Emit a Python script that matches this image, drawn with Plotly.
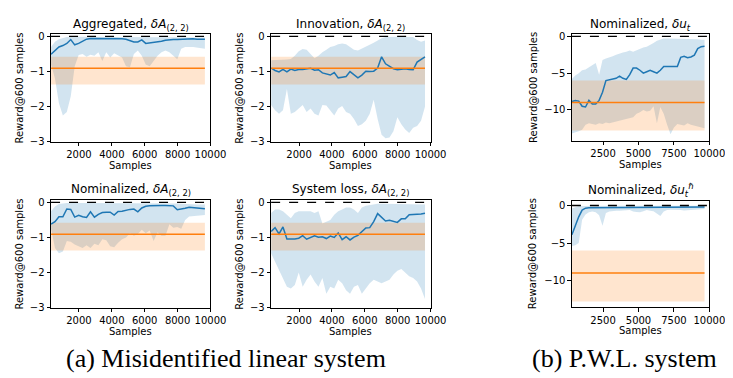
import plotly.graph_objects as go

# ---------------- data ----------------
SAMPLES = [300, 540, 780, 1020, 1260, 1500, 1740, 1980, 2220, 2460,
           2700, 2940, 3180, 3420, 3660, 3900, 4140, 4380, 4620, 4860,
           5100, 5340, 5580, 5820, 6060, 6300, 6540, 6780, 7020, 7260,
           7500, 7740, 7980, 8220, 8460, 8700, 8940, 9180, 9420, 9660]

# (a) Aggregated
agg_mean = [-0.51, -0.40, -0.30, -0.26, -0.20, -0.09, -0.24, -0.20, -0.13, -0.08,
            -0.06, -0.06, -0.05, -0.06, -0.06, -0.07, -0.06, -0.07, -0.07, -0.08,
            -0.12, -0.16, -0.16, -0.10, -0.20, -0.19, -0.17, -0.16, -0.14, -0.11,
            -0.09, -0.09, -0.09, -0.08, -0.08, -0.08, -0.07, -0.08, -0.08, -0.08]
agg_upper = [-0.30, -0.15, -0.08, -0.04, -0.02, -0.01, -0.02, -0.01, -0.01, -0.01,
             -0.01, -0.01, -0.01, -0.01, -0.01, -0.01, -0.01, -0.01, -0.01, -0.01,
             -0.02, -0.02, -0.02, -0.01, -0.02, -0.02, -0.01, -0.01, -0.01, -0.01,
             -0.01, -0.01, -0.02, -0.02, -0.02, -0.03, -0.03, -0.03, -0.03, -0.03]
agg_lower = [-0.80, -1.20, -1.90, -2.25, -2.15, -1.70, -0.85, -0.53, -0.50, -0.58,
             -0.52, -0.55, -0.45, -0.70, -0.45, -0.60, -0.48, -0.55, -0.60, -0.85,
             -0.88, -0.50, -0.40, -0.55, -0.80, -0.85, -0.70, -0.55, -0.45, -0.40,
             -0.45, -0.55, -0.65, -0.35, -0.30, -0.30, -0.30, -0.32, -0.33, -0.35]

# (a) Innovation
inn_mean = [-0.90, -0.97, -1.01, -0.94, -1.01, -0.93, -0.97, -0.94, -0.94, -0.92,
            -0.91, -0.96, -0.95, -1.04, -1.06, -1.10, -1.03, -1.18, -1.16, -1.14,
            -1.00, -1.08, -1.18, -1.10, -0.99, -1.00, -0.99, -0.90, -0.58, -0.78,
            -0.86, -0.92, -0.95, -0.93, -0.92, -0.94, -0.95, -0.73, -0.66, -0.58]
inn_upper = [-0.68, -0.68, -0.67, -0.66, -0.66, -0.64, -0.55, -0.42, -0.36, -0.38,
             -0.50, -0.62, -0.55, -0.45, -0.38, -0.30, -0.27, -0.22, -0.20, -0.22,
             -0.30, -0.38, -0.40, -0.35, -0.28, -0.25, -0.18, -0.12, -0.05, -0.02,
             -0.01, -0.01, -0.01, -0.01, -0.01, -0.01, -0.02, -0.10, -0.15, -0.12]
inn_lower = [-1.95, -2.10, -2.20, -2.10, -1.50, -2.20, -2.15, -2.05, -1.95, -2.15,
             -2.05, -2.20, -2.25, -1.95, -1.97, -2.10, -2.25, -2.05, -1.98, -2.15,
             -2.20, -2.35, -2.55, -2.50, -2.40, -2.20, -1.80, -2.35, -2.80, -2.90,
             -2.88, -2.70, -2.30, -2.50, -2.65, -2.75, -2.60, -2.55, -2.40, -2.00]

# (a) Nominalized
nom_mean = [-0.62, -0.55, -0.41, -0.41, -0.19, -0.20, -0.42, -0.37, -0.41, -0.43,
            -0.27, -0.42, -0.34, -0.29, -0.28, -0.28, -0.36, -0.26, -0.25, -0.22,
            -0.20, -0.19, -0.27, -0.16, -0.11, -0.10, -0.09, -0.09, -0.09, -0.09,
            -0.09, -0.10, -0.21, -0.20, -0.17, -0.14, -0.15, -0.15, -0.16, -0.18]
nom_upper = [-0.25, -0.12, -0.05, -0.03, -0.02, -0.02, -0.03, -0.02, -0.02, -0.02,
             -0.01, -0.02, -0.02, -0.01, -0.01, -0.01, -0.02, -0.01, -0.01, -0.01,
             -0.01, -0.01, -0.01, -0.01, -0.01, -0.01, -0.01, -0.01, -0.01, -0.01,
             -0.01, -0.02, -0.03, -0.04, -0.05, -0.06, -0.06, -0.06, -0.06, -0.06]
nom_lower = [-0.75, -1.30, -1.45, -1.40, -1.10, -1.12, -1.20, -1.25, -1.30, -1.22,
             -1.30, -1.18, -1.22, -1.05, -1.08, -1.25, -1.28, -1.15, -1.05, -1.00,
             -0.88, -0.95, -0.90, -0.78, -0.88, -0.80, -1.10, -0.85, -0.95, -0.95,
             -0.62, -0.72, -0.70, -0.75, -0.50, -0.40, -0.38, -0.38, -0.37, -0.36]

# (a) System loss
sys_mean = [-0.83, -0.72, -0.90, -0.70, -1.04, -1.05, -1.04, -1.02, -0.95, -1.05,
            -1.00, -0.95, -0.99, -0.98, -1.03, -0.96, -1.00, -0.87, -1.06, -0.98,
            -1.07, -0.99, -0.94, -0.82, -0.73, -0.72, -0.55, -0.32, -0.44, -0.53,
            -0.51, -0.53, -0.57, -0.47, -0.47, -0.35, -0.35, -0.35, -0.33, -0.31]
sys_upper = [-0.30, -0.20, -0.20, -0.25, -0.35, -0.45, -0.30, -0.25, -0.25, -0.25,
             -0.25, -0.30, -0.25, -0.60, -0.55, -0.50, -0.35, -0.25, -0.20, -0.15,
             -0.15, -0.20, -0.30, -0.15, -0.10, -0.08, -0.05, -0.04, -0.04, -0.04,
             -0.04, -0.04, -0.04, -0.05, -0.06, -0.06, -0.06, -0.06, -0.06, -0.06]
sys_lower = [-1.45, -1.70, -1.95, -2.15, -2.40, -2.45, -2.35, -2.00, -2.40, -2.20,
             -2.05, -2.25, -2.40, -2.15, -2.60, -2.40, -2.45, -2.20, -2.30, -2.50,
             -2.60, -2.40, -2.35, -2.60, -2.45, -2.30, -2.20, -2.25, -2.30, -2.25,
             -2.20, -2.05, -1.95, -1.90, -2.00, -2.10, -2.15, -2.25, -2.45, -2.75]

# (b) Nominalized, delta u_t
u_mean = [-8.86, -8.72, -8.80, -9.50, -9.60, -8.70, -9.20, -9.20, -8.70, -7.60,
          -6.00, -5.90, -5.75, -5.70, -5.40, -5.70, -5.85, -5.20, -4.30, -4.30,
          -4.60, -5.00, -4.80, -4.60, -4.80, -5.00, -4.60, -4.10, -4.10, -4.10,
          -4.15, -4.10, -2.85, -2.70, -2.90, -2.80, -2.55, -1.65, -1.40, -1.35]
u_upper = [-5.80, -5.30, -5.00, -4.60, -4.50, -4.20, -4.00, -3.60, -5.20, -3.20,
           -3.00, -2.90, -2.70, -2.50, -2.30, -2.20, -2.10, -1.90, -2.10, -1.90,
           -1.60, -1.50, -1.40, -1.20, -0.90, -0.60, -0.45, -0.30, -0.30, -0.30,
           -0.35, -0.35, -0.30, -0.35, -0.40, -0.40, -0.40, -0.40, -0.45, -0.45]
u_lower = [-13.2, -13.0, -12.9, -12.7, -12.0, -11.8, -11.9, -12.0, -11.8, -11.9,
           -11.7, -11.8, -11.7, -11.6, -11.5, -11.4, -11.3, -11.1, -11.0, -10.5,
           -10.3, -10.0, -10.2, -10.1, -9.5, -11.8, -9.6, -10.5, -12.0, -13.3,
           -12.4, -11.9, -12.0, -12.1, -11.8, -12.0, -12.1, -12.2, -12.4, -12.5]

# (b) Nominalized, delta u_t^hbar
uh_mean = [-3.90, -2.70, -1.50, -0.60, -0.35, -0.30, -0.30, -0.28, -0.27, -0.27,
           -0.26, -0.26, -0.25, -0.25, -0.25, -0.25, -0.24, -0.24, -0.24, -0.24,
           -0.24, -0.24, -0.23, -0.23, -0.23, -0.23, -0.22, -0.22, -0.22, -0.22,
           -0.22, -0.21, -0.21, -0.21, -0.20, -0.20, -0.20, -0.20, -0.20, -0.20]
uh_upper = [-0.40, -0.20, -0.06, -0.05, -0.04, -0.04, -0.04, -0.04, -0.04, -0.04,
            -0.04, -0.04, -0.04, -0.04, -0.04, -0.04, -0.04, -0.04, -0.04, -0.04,
            -0.04, -0.04, -0.04, -0.04, -0.04, -0.04, -0.04, -0.04, -0.04, -0.04,
            -0.04, -0.04, -0.04, -0.04, -0.04, -0.04, -0.04, -0.04, -0.04, -0.04]
uh_lower = [-5.40, -5.30, -5.00, -1.90, -1.20, -0.90, -0.80, -0.90, -1.30, -2.70,
            -1.00, -0.80, -0.75, -0.70, -0.70, -0.65, -0.65, -0.60, -0.80, -0.85,
            -0.90, -0.75, -0.60, -0.70, -0.75, -1.10, -1.40, -0.80, -0.60, -0.55,
            -0.50, -0.55, -0.60, -0.65, -0.70, -0.60, -0.55, -0.55, -0.50, -0.45]

# baselines (orange): mean, upper, lower
baseline_linear = [-0.91, -0.58, -1.37]
baseline_pwl = [-9.0, -6.0, -12.8]
optimal_reward = 0

x_ticks_linear = [2000, 4000, 6000, 8000, 10000]
x_ticks_pwl = [2500, 5000, 7500, 10000]
y_ticks_linear = [0, -1, -2, -3]
y_ticks_pwl = [0, -5, -10]

titles = ["Aggregated, <i>δA</i><sub>(2, 2)</sub>",
          "Innovation, <i>δA</i><sub>(2, 2)</sub>",
          "Nominalized, <i>δu</i><sub><i>t</i></sub>",
          "Nominalized, <i>δA</i><sub>(2, 2)</sub>",
          "System loss, <i>δA</i><sub>(2, 2)</sub>",
          "Nominalized, <i>δu</i><sub><i>t</i></sub><sup><i>ℏ</i></sup>"]
captions = ["(a) Misidentified linear system", "(b) P.W.L. system"]
x_title = "Samples"
y_title = "Reward@600 samples"

# ---------------- figure ----------------
W, H = 733, 378
BLUE = "#1f77b4"
ORANGE = "#ff7f0e"
BLUE_FILL = "rgba(31,119,180,0.2)"
ORANGE_FILL = "rgba(255,127,14,0.2)"
FONT = "DejaVu Sans"


def fx(p):
    return p / W


def fy(p):
    return 1 - p / H


panels = [
    # (mean, upper, lower, baseline, xpix, ypix(top,bottom), yrange, pwl)
    (agg_mean, agg_upper, agg_lower, baseline_linear, (44, 207), (23.5, 134), [-3, 0.07], False),
    (inn_mean, inn_upper, inn_lower, baseline_linear, (269, 432), (23.5, 134), [-3, 0.07], False),
    (u_mean, u_upper, u_lower, baseline_pwl, (576.5, 717), (24, 133), [-14.2, 0.27], True),
    (nom_mean, nom_upper, nom_lower, baseline_linear, (44, 207), (193.5, 304), [-3, 0.07], False),
    (sys_mean, sys_upper, sys_lower, baseline_linear, (269, 432), (193.5, 304), [-3, 0.07], False),
    (uh_mean, uh_upper, uh_lower, baseline_pwl, (576.5, 717), (194.3, 303.3), [-13.54, 0.65], True),
]
ylabel_x = [12, 237, 537, 12, 237, 537]

fig = go.Figure()
annotations = []
shapes = []
n = len(SAMPLES)

for k, (mean, upper, lower, base, xp, yp, yr, pwl) in enumerate(panels):
    idx = "" if k == 0 else str(k + 1)
    xa, ya = "x" + idx, "y" + idx
    # blue band
    fig.add_trace(go.Scatter(x=SAMPLES + SAMPLES[::-1], y=upper + lower[::-1],
                             fill="toself", fillcolor=BLUE_FILL, line=dict(width=0),
                             mode="lines", hoverinfo="skip", showlegend=False,
                             xaxis=xa, yaxis=ya))
    # orange band
    b_up = [base[1]] * n
    b_lo = [base[2]] * n
    fig.add_trace(go.Scatter(x=SAMPLES + SAMPLES[::-1], y=b_up + b_lo[::-1],
                             fill="toself", fillcolor=ORANGE_FILL, line=dict(width=0),
                             mode="lines", hoverinfo="skip", showlegend=False,
                             xaxis=xa, yaxis=ya))
    # blue mean
    fig.add_trace(go.Scatter(x=SAMPLES, y=mean, mode="lines",
                             line=dict(color=BLUE, width=1.5), showlegend=False,
                             xaxis=xa, yaxis=ya))
    # orange mean
    fig.add_trace(go.Scatter(x=SAMPLES, y=[base[0]] * n, mode="lines",
                             line=dict(color=ORANGE, width=1.5), showlegend=False,
                             xaxis=xa, yaxis=ya))
    # optimal dashed line
    shapes.append(dict(type="line", xref=xa + " domain", yref=ya,
                       x0=0, x1=1, y0=optimal_reward, y1=optimal_reward,
                       line=dict(color="black", width=1.4, dash="dash"), layer="above"))

    axis_common = dict(showline=True, linecolor="black", linewidth=0.9, mirror=True,
                       ticks="outside", ticklen=3.5, tickwidth=0.9, tickcolor="black",
                       showgrid=False, zeroline=False,
                       tickfont=dict(family=FONT, size=10, color="black"))
    fig.update_layout(**{
        ("xaxis" + idx): dict(domain=[fx(xp[0]), fx(xp[1])], anchor=ya,
                              range=[300, 10000],
                              tickvals=x_ticks_pwl if pwl else x_ticks_linear,
                              ticktext=[str(v) for v in (x_ticks_pwl if pwl else x_ticks_linear)],
                              **axis_common),
        ("yaxis" + idx): dict(domain=[fy(yp[1]), fy(yp[0])], anchor=xa, range=yr,
                              tickvals=y_ticks_pwl if pwl else y_ticks_linear,
                              **axis_common),
    })

    cx = fx((xp[0] + xp[1]) / 2)
    title_y = 14 if k < 3 else 183.5
    annotations.append(dict(text=titles[k], x=cx, y=fy(title_y), xref="paper", yref="paper",
                            showarrow=False, xanchor="center", yanchor="middle",
                            font=dict(family=FONT, size=12, color="black")))
    annotations.append(dict(text=x_title, x=cx, y=fy(yp[1] + 24), xref="paper", yref="paper",
                            showarrow=False, xanchor="center", yanchor="middle",
                            font=dict(family=FONT, size=10, color="black")))
    annotations.append(dict(text=y_title, x=fx(ylabel_x[k]), y=fy((yp[0] + yp[1]) / 2),
                            xref="paper", yref="paper", textangle=-90,
                            showarrow=False, xanchor="center", yanchor="middle",
                            font=dict(family=FONT, size=10, color="black")))

annotations.append(dict(text=captions[0], x=fx(223), y=fy(356), xref="paper", yref="paper",
                        showarrow=False, xanchor="center", yanchor="middle",
                        font=dict(family="Liberation Serif", size=26, color="black")))
annotations.append(dict(text=captions[1], x=fx(630), y=fy(356), xref="paper", yref="paper",
                        showarrow=False, xanchor="center", yanchor="middle",
                        font=dict(family="Liberation Serif", size=26, color="black")))

fig.update_layout(width=W, height=H, margin=dict(l=0, r=0, t=0, b=0),
                  paper_bgcolor="white", plot_bgcolor="white",
                  annotations=annotations, shapes=shapes, showlegend=False)

fig.write_html("out.html")
